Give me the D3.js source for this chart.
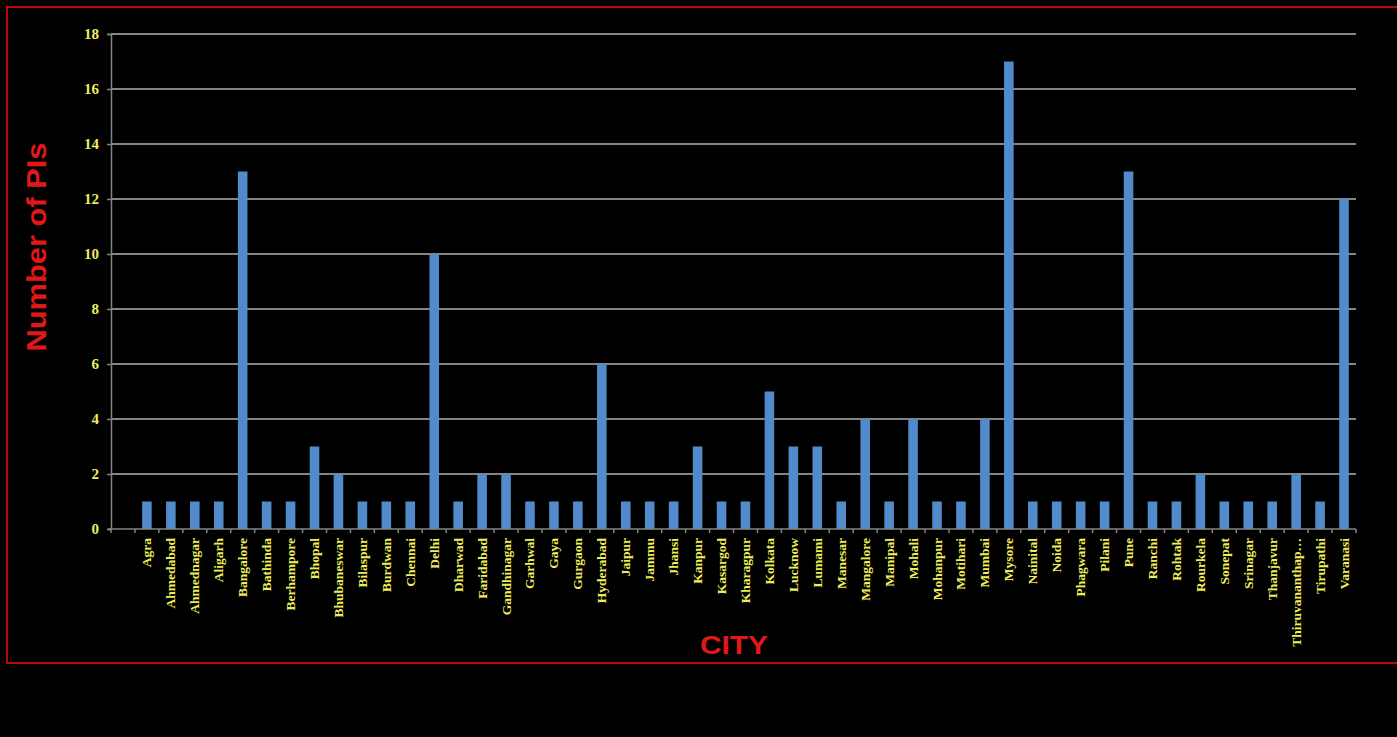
<!DOCTYPE html>
<html>
<head>
<meta charset="utf-8">
<script src="https://cdn.jsdelivr.net/npm/d3@7"></script>
<style>
  html, body { margin: 0; padding: 0; background: #000; }
  svg { display: block; }
</style>
</head>
<body>
<svg width="1397" height="737"></svg>
<script>
// data
var cities = ["Agra", "Ahmedabad", "Ahmednagar", "Aligarh", "Bangalore", "Bathinda", "Berhampore",
  "Bhopal", "Bhubaneswar", "Bilaspur", "Burdwan", "Chennai", "Delhi", "Dharwad", "Faridabad",
  "Gandhinagar", "Garhwal", "Gaya", "Gurgaon", "Hyderabad", "Jaipur", "Jammu", "Jhansi", "Kanpur",
  "Kasargod", "Kharagpur", "Kolkata", "Lucknow", "Lumami", "Manesar", "Mangalore", "Manipal",
  "Mohali", "Mohanpur", "Motihari", "Mumbai", "Mysore", "Nainital", "Noida", "Phagwara", "Pilani",
  "Pune", "Ranchi", "Rohtak", "Rourkela", "Sonepat", "Srinagar", "Thanjavur", "Thiruvananthap…",
  "Tirupathi", "Varanasi"];
var piCounts = [1, 1, 1, 1, 13, 1, 1, 3, 2, 1, 1, 1, 10, 1, 2, 2, 1, 1, 1, 6, 1, 1, 1, 3,
  1, 1, 5, 3, 3, 1, 4, 1, 4, 1, 1, 4, 17, 1, 1, 1, 1, 13, 1, 1, 2, 1, 1, 1, 2, 1, 12];
var yTicks = [0, 2, 4, 6, 8, 10, 12, 14, 16, 18];

var data = cities.map(function(c, i) { return { city: c, value: piCounts[i] }; });

var svg = d3.select("svg");
var yellow = "#eeee5c", red = "#e01818", grid = "#858585";

// frame
svg.append("rect")
  .attr("x", 7).attr("y", 7)
  .attr("width", 1400).attr("height", 656)
  .attr("fill", "none")
  .attr("stroke", "#b80808")
  .attr("stroke-width", 2);

var plotL = 111, plotR = 1356, plotT = 34, plotB = 529;

// the original has an empty leading slot before Agra
var x = d3.scaleBand()
  .domain([""].concat(cities))
  .range([plotL, plotR])
  .paddingInner(0.6)
  .paddingOuter(0.3);

var y = d3.scaleLinear().domain([0, 18]).range([plotB, plotT]);

// gridlines
svg.append("g")
  .selectAll("line")
  .data(yTicks.slice(1))
  .enter().append("line")
  .attr("x1", plotL).attr("x2", plotR)
  .attr("y1", function(d) { return y(d); })
  .attr("y2", function(d) { return y(d); })
  .attr("stroke", grid)
  .attr("stroke-width", 2);

// y axis
var yAxis = svg.append("g")
  .attr("transform", "translate(" + plotL + ",0)")
  .call(d3.axisLeft(y).tickValues(yTicks).tickSize(4).tickPadding(8));
yAxis.selectAll("path, line").attr("stroke", grid).attr("stroke-width", 1.5);
yAxis.selectAll("text")
  .attr("fill", yellow)
  .style("font-family", "'Liberation Serif', serif")
  .style("font-weight", "bold")
  .style("font-size", "15px");

// bars
svg.append("g")
  .selectAll("rect")
  .data(data)
  .enter().append("rect")
  .attr("x", function(d) { return x(d.city); })
  .attr("y", function(d) { return y(d.value); })
  .attr("width", x.bandwidth())
  .attr("height", function(d) { return y(0) - y(d.value); })
  .attr("fill", "#528bcc");

// x axis line with band-boundary ticks
var step = x.step();
var xg = svg.append("g");
xg.append("line")
  .attr("x1", plotL - 3).attr("x2", plotR)
  .attr("y1", plotB).attr("y2", plotB)
  .attr("stroke", grid).attr("stroke-width", 1.5);
xg.selectAll(".tk")
  .data(d3.range(cities.length + 2))
  .enter().append("line")
  .attr("x1", function(i) { return plotL + i * step; })
  .attr("x2", function(i) { return plotL + i * step; })
  .attr("y1", plotB).attr("y2", plotB + 4)
  .attr("stroke", grid).attr("stroke-width", 1.5);

// city labels, rotated
xg.selectAll(".lbl")
  .data(cities)
  .enter().append("text")
  .attr("transform", function(d) {
    return "translate(" + (x(d) + x.bandwidth() / 2 + 4.5) + "," + (plotB + 9) + ") rotate(-90)";
  })
  .attr("text-anchor", "end")
  .attr("fill", yellow)
  .style("font-family", "'Liberation Serif', serif")
  .style("font-weight", "bold")
  .style("font-size", "13.5px")
  .text(function(d) { return d; });

// axis titles
svg.append("text")
  .attr("transform", "translate(46,247) rotate(-90)")
  .attr("text-anchor", "middle")
  .attr("fill", red)
  .attr("textLength", 209)
  .attr("lengthAdjust", "spacingAndGlyphs")
  .style("font-family", "'Liberation Sans', Arial, sans-serif")
  .style("font-weight", "bold")
  .style("font-size", "27px")
  .text("Number of PIs");

svg.append("text")
  .attr("x", 734).attr("y", 654)
  .attr("text-anchor", "middle")
  .attr("fill", red)
  .attr("textLength", 68)
  .attr("lengthAdjust", "spacingAndGlyphs")
  .style("font-family", "'Liberation Sans', Arial, sans-serif")
  .style("font-weight", "bold")
  .style("font-size", "25px")
  .text("CITY");
</script>
</body>
</html>
